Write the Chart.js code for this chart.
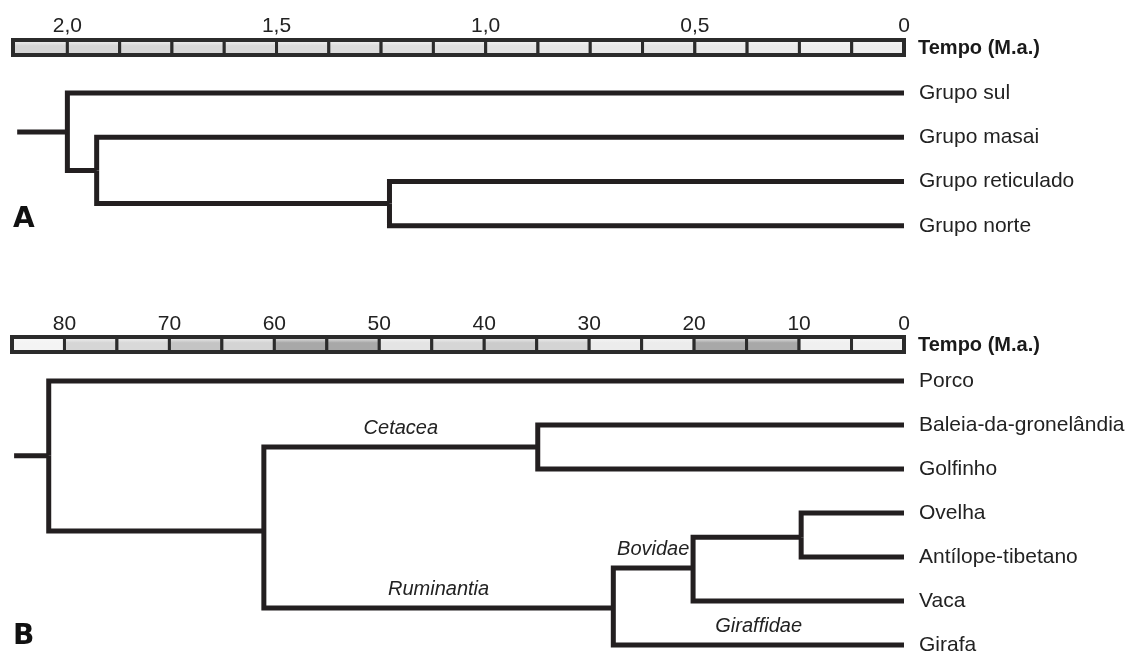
<!DOCTYPE html>
<html>
<head>
<meta charset="utf-8">
<script src="https://cdn.jsdelivr.net/npm/chart.js@4.4.1/dist/chart.umd.min.js"></script>
<style>
  body { margin: 0; background: #fff; }
  #wrap { position: relative; width: 1131px; height: 653px; overflow: hidden; }
  canvas { position: absolute; left: 0; }
  #chartA { top: 0; }
  #chartB { top: 290px; }
  .letra { position: absolute; left: 13px; font: bold 28px 'DejaVu Sans'; line-height: 28px; color: #111; }
</style>
</head>
<body>
<div id="wrap">
  <canvas id="chartA" width="1131" height="270"></canvas>
  <canvas id="chartB" width="1131" height="363"></canvas>
  <div class="letra" style="top:204px">A</div>
  <div class="letra" style="top:621px">B</div>
</div>
<script>
// --- A: girafas (M.a.) ---
const tipsA = ['Grupo sul', 'Grupo masai', 'Grupo reticulado', 'Grupo norte'];
const nodeNamesA = ['raiz', 'n1', 'n2'];
const nodeAgesA = [2.0, 1.93, 1.23];
const nodeRowsA = [0.88, 1.75, 2.5];
const edgeParentA = ['raiz', 'raiz', 'n1', 'n1', 'n2', 'n2'];
const edgeChildA = ['Grupo sul', 'n1', 'Grupo masai', 'n2', 'Grupo reticulado', 'Grupo norte'];
const edgeLabelA = ['', '', '', '', '', ''];
const rootStubA = 2.12;
const ticksA = [2.0, 1.5, 1.0, 0.5, 0];
const tickLabelsA = ['2,0', '1,5', '1,0', '0,5', '0'];
const cellEdgesA = [2.13, 2.0, 1.875, 1.75, 1.625, 1.5, 1.375, 1.25, 1.125, 1.0,
                    0.875, 0.75, 0.625, 0.5, 0.375, 0.25, 0.125, 0];

// --- B: cetartiodáctilos (M.a.) ---
const tipsB = ['Porco', 'Baleia-da-gronelândia', 'Golfinho', 'Ovelha', 'Antílope-tibetano', 'Vaca', 'Girafa'];
const nodeNamesB = ['raiz', 'n1', 'cet', 'rum', 'bov', 'ov'];
const nodeAgesB = [81.5, 61, 34.9, 27.7, 20.1, 9.8];
const nodeRowsB = [1.70, 3.41, 1.50, 5.16, 4.25, 3.55];
const edgeParentB = ['raiz', 'raiz', 'n1', 'n1', 'cet', 'cet', 'rum', 'rum', 'bov', 'bov', 'ov', 'ov'];
const edgeChildB = ['Porco', 'n1', 'cet', 'rum', 'Baleia-da-gronelândia', 'Golfinho',
                    'bov', 'Girafa', 'ov', 'Vaca', 'Ovelha', 'Antílope-tibetano'];
const edgeLabelB = ['', '', 'Cetacea', 'Ruminantia', '', '', 'Bovidae', 'Giraffidae', '', '', '', ''];
const rootStubB = 84.8;
const ticksB = [80, 70, 60, 50, 40, 30, 20, 10, 0];
const tickLabelsB = ['80', '70', '60', '50', '40', '30', '20', '10', '0'];
const cellEdgesB = [85, 80, 75, 70, 65, 60, 55, 50, 45, 40, 35, 30, 25, 20, 15, 10, 5, 0];

// cores das células da escala
const cellColorsA = ['#d5d5d5', '#d6d6d6', '#d7d7d7', '#d8d8d8', '#d9d9d9', '#dbdbdb', '#dcdcdc', '#dedede', '#e0e0e0',
                     '#e3e3e3', '#e6e6e6', '#e8e8e8', '#e4e4e4', '#e9e9e9', '#ebebeb', '#ededed', '#eeeeee'];
const cellColorsB = ['#f4f4f4', '#d6d6d6', '#d9d9d9', '#c4c4c4', '#d4d4d4', '#a8a8a8', '#a8a8a8', '#e4e4e4', '#d6d6d6',
                     '#cbcbcb', '#d4d4d4', '#ececec', '#ececec', '#a8a8a8', '#a8a8a8', '#f0f0f0', '#f0f0f0'];

const LINE = '#231f20';

function drawTree(id, t) {
  function pos(name) {
    const i = t.nodeNames.indexOf(name);
    if (i >= 0) return { x: t.nodeAges[i], y: t.nodeRows[i] };
    return { x: 0, y: t.tips.indexOf(name) };
  }

  const datasets = [];
  const root = pos(t.nodeNames[0]);
  datasets.push({ data: [{ x: t.rootStub, y: root.y }, { x: root.x, y: root.y }] });
  t.edgeParent.forEach(function (p, i) {
    const a = pos(p), b = pos(t.edgeChild[i]);
    datasets.push({ data: [{ x: a.x, y: a.y }, { x: a.x, y: b.y }, { x: b.x, y: b.y }] });
  });
  datasets.forEach(function (d) {
    d.showLine = true;
    d.borderColor = LINE;
    d.borderWidth = 5;
    d.pointRadius = 0;
    d.borderJoinStyle = 'miter';
    d.clip = false;
  });

  const decor = {
    id: 'decor',
    afterDraw(chart) {
      const ctx = chart.ctx;
      const xs = chart.scales.x, ys = chart.scales.y;
      const top = xs.bottom - 17, h = 17;
      ctx.save();
      // escala de tempo
      for (let i = 0; i < t.cellEdges.length - 1; i++) {
        const x1 = xs.getPixelForValue(t.cellEdges[i]);
        const x2 = xs.getPixelForValue(t.cellEdges[i + 1]);
        const g = ctx.createLinearGradient(0, top, 0, top + h);
        g.addColorStop(0, '#fafafa');
        g.addColorStop(0.4, t.cellColors[i]);
        g.addColorStop(1, t.cellColors[i]);
        ctx.fillStyle = g;
        ctx.fillRect(x1, top, x2 - x1, h);
        ctx.strokeStyle = '#2b2b2b';
        ctx.lineWidth = 3;
        ctx.strokeRect(x1, top + 1, x2 - x1, h - 2);
      }
      const xl = xs.getPixelForValue(t.cellEdges[0]);
      const xr = xs.getPixelForValue(t.cellEdges[t.cellEdges.length - 1]);
      ctx.lineWidth = 4;
      ctx.strokeRect(xl, top + 1, xr - xl, h - 2);

      ctx.fillStyle = '#1a1a1a';
      ctx.font = 'bold 20px "Liberation Sans"';
      ctx.textAlign = 'left';
      ctx.textBaseline = 'middle';
      ctx.fillText('Tempo (M.a.)', xs.right + 14, top + h / 2 + 1);

      // nomes dos clados
      ctx.font = 'italic 20px "Liberation Sans"';
      ctx.textAlign = 'center';
      ctx.fillStyle = '#222';
      t.edgeLabel.forEach(function (lab, i) {
        if (!lab) return;
        const a = pos(t.edgeParent[i]), b = pos(t.edgeChild[i]);
        const xm = (xs.getPixelForValue(a.x) + xs.getPixelForValue(b.x)) / 2;
        ctx.fillText(lab, xm, ys.getPixelForValue(b.y) - 19);
      });
      ctx.restore();
    }
  };

  return new Chart(document.getElementById(id), {
    type: 'scatter',
    data: { datasets: datasets },
    plugins: [decor],
    options: {
      responsive: false,
      animation: false,
      events: [],
      layout: { autoPadding: false, padding: { left: t.padLeft, right: 0, top: 0, bottom: 0 } },
      plugins: { legend: { display: false }, tooltip: { enabled: false } },
      scales: {
        x: {
          type: 'linear',
          position: 'top',
          reverse: true,
          min: 0,
          max: t.cellEdges[0],
          grid: { display: false },
          border: { display: false },
          afterBuildTicks: function (s) { s.ticks = t.ticks.map(function (v) { return { value: v }; }); },
          afterFit: function (s) { s.height = t.axisHeight; s.paddingLeft = 0; s.paddingRight = 0; },
          ticks: {
            color: '#222',
            padding: t.tickPad,
            maxRotation: 0,
            font: { family: '"Liberation Sans"', size: 21 },
            callback: function (v, i) { return t.tickLabels[i]; }
          }
        },
        y: {
          type: 'linear',
          position: 'right',
          reverse: true,
          min: t.yMin,
          max: t.yMax,
          grid: { display: false },
          border: { display: false },
          afterBuildTicks: function (s) { s.ticks = t.tips.map(function (n, i) { return { value: i }; }); },
          afterFit: function (s) { s.width = 227; s.paddingTop = 0; s.paddingBottom = 0; },
          ticks: {
            color: '#222',
            padding: 7,
            font: { family: '"Liberation Sans"', size: 21 },
            callback: function (v, i) { return t.tips[i]; }
          }
        }
      }
    }
  });
}

drawTree('chartA', {
  tips: tipsA, nodeNames: nodeNamesA, nodeAges: nodeAgesA, nodeRows: nodeRowsA,
  edgeParent: edgeParentA, edgeChild: edgeChildA, edgeLabel: edgeLabelA, rootStub: rootStubA,
  ticks: ticksA, tickLabels: tickLabelsA, cellEdges: cellEdgesA, cellColors: cellColorsA,
  padLeft: 13, axisHeight: 56, tickPad: 9, yMin: -0.835, yMax: 4
});

drawTree('chartB', {
  tips: tipsB, nodeNames: nodeNamesB, nodeAges: nodeAgesB, nodeRows: nodeRowsB,
  edgeParent: edgeParentB, edgeChild: edgeChildB, edgeLabel: edgeLabelB, rootStub: rootStubB,
  ticks: ticksB, tickLabels: tickLabelsB, cellEdges: cellEdgesB, cellColors: cellColorsB,
  padLeft: 12, axisHeight: 63, tickPad: 8, yMin: -0.636, yMax: 6.18
});
</script>
</body>
</html>
